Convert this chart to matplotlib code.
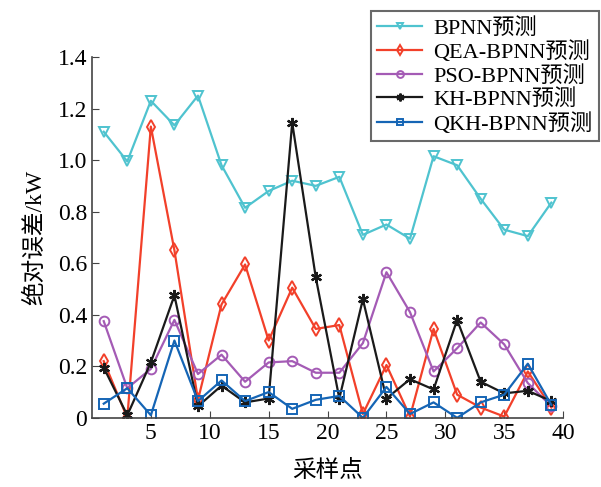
import matplotlib
matplotlib.use('Agg')
import matplotlib.pyplot as plt

plt.rcParams['font.family'] = ['Liberation Serif', 'Noto Sans CJK SC']
plt.rcParams['axes.unicode_minus'] = False

x = [1, 3, 5, 7, 9, 11, 13, 15, 17, 19, 21, 23, 25, 27, 29, 31, 33, 35, 37, 39]

bpnn = [1.11, 0.995, 1.23, 1.135, 1.25, 0.98, 0.815, 0.88, 0.92, 0.90,
        0.935, 0.71, 0.75, 0.695, 1.015, 0.98, 0.85, 0.73, 0.705, 0.835]
qea = [0.22, 0.0, 1.13, 0.65, 0.07, 0.44, 0.595, 0.30, 0.505, 0.345,
       0.36, 0.015, 0.205, 0.005, 0.345, 0.09, 0.04, 0.005, 0.18, 0.04]
pso = [0.375, 0.115, 0.19, 0.38, 0.17, 0.245, 0.14, 0.215, 0.22, 0.175,
       0.175, 0.29, 0.565, 0.41, 0.18, 0.27, 0.37, 0.285, 0.135, 0.045]
kh = [0.195, 0.01, 0.215, 0.475, 0.045, 0.125, 0.06, 0.075, 1.145, 0.545,
      0.075, 0.46, 0.075, 0.15, 0.11, 0.38, 0.14, 0.095, 0.105, 0.065]
qkh = [0.055, 0.115, 0.01, 0.30, 0.065, 0.145, 0.065, 0.10, 0.035, 0.07,
       0.085, 0.0, 0.12, 0.015, 0.06, 0.0, 0.06, 0.09, 0.21, 0.05]

labels = ['BPNN预测', 'QEA-BPNN预测', 'PSO-BPNN预测', 'KH-BPNN预测', 'QKH-BPNN预测']
colors = ['#4fc3cf', '#f2402a', '#a45bb5', '#1a1a1a', '#1565b5']
markers = ['v', 'd', 'o', (6, 2, 0), 's']

fig = plt.figure(figsize=(6.01, 4.87), dpi=100)
ax = fig.add_axes([0.153, 0.142, 0.784, 0.741])

for ys, lab, c, m in zip([bpnn, qea, pso, kh, qkh], labels, colors, markers):
    if isinstance(m, tuple):
        ax.plot(x, ys, color=c, marker=m, markersize=8, markeredgewidth=1.6,
                linewidth=1.6, label=lab)
    else:
        ax.plot(x, ys, color=c, marker=m, markersize=7, markerfacecolor='none',
                markeredgewidth=1.4, linewidth=1.6, label=lab)

ax.set_xlim(0, 40)
ax.set_ylim(0, 1.4)
ax.set_xticks([5, 10, 15, 20, 25, 30, 35, 40])
ax.set_yticks([0, 0.2, 0.4, 0.6, 0.8, 1.0, 1.2, 1.4])
ax.set_yticklabels(['0', '0.2', '0.4', '0.6', '0.8', '1.0', '1.2', '1.4'])
ax.tick_params(direction='in', labelsize=17, length=5, color='#444444')
ax.spines['top'].set_visible(False)
ax.spines['right'].set_visible(False)
for s in ['left', 'bottom']:
    ax.spines[s].set_color('#444444')
    ax.spines[s].set_linewidth(1.2)

ax.set_xlabel('采样点', fontsize=17, labelpad=12)
ax.set_ylabel('绝对误差/kW', fontsize=17, labelpad=8)

leg = fig.legend(loc='upper left', bbox_to_anchor=(0.617, 0.977), fontsize=16,
                 frameon=True, fancybox=False, edgecolor='#444444',
                 handlelength=2.0, labelspacing=0.12, borderpad=0.3,
                 handletextpad=0.5, borderaxespad=0, markerscale=0.7)
leg.get_frame().set_linewidth(1.5)

plt.savefig('out.png', dpi=100)
